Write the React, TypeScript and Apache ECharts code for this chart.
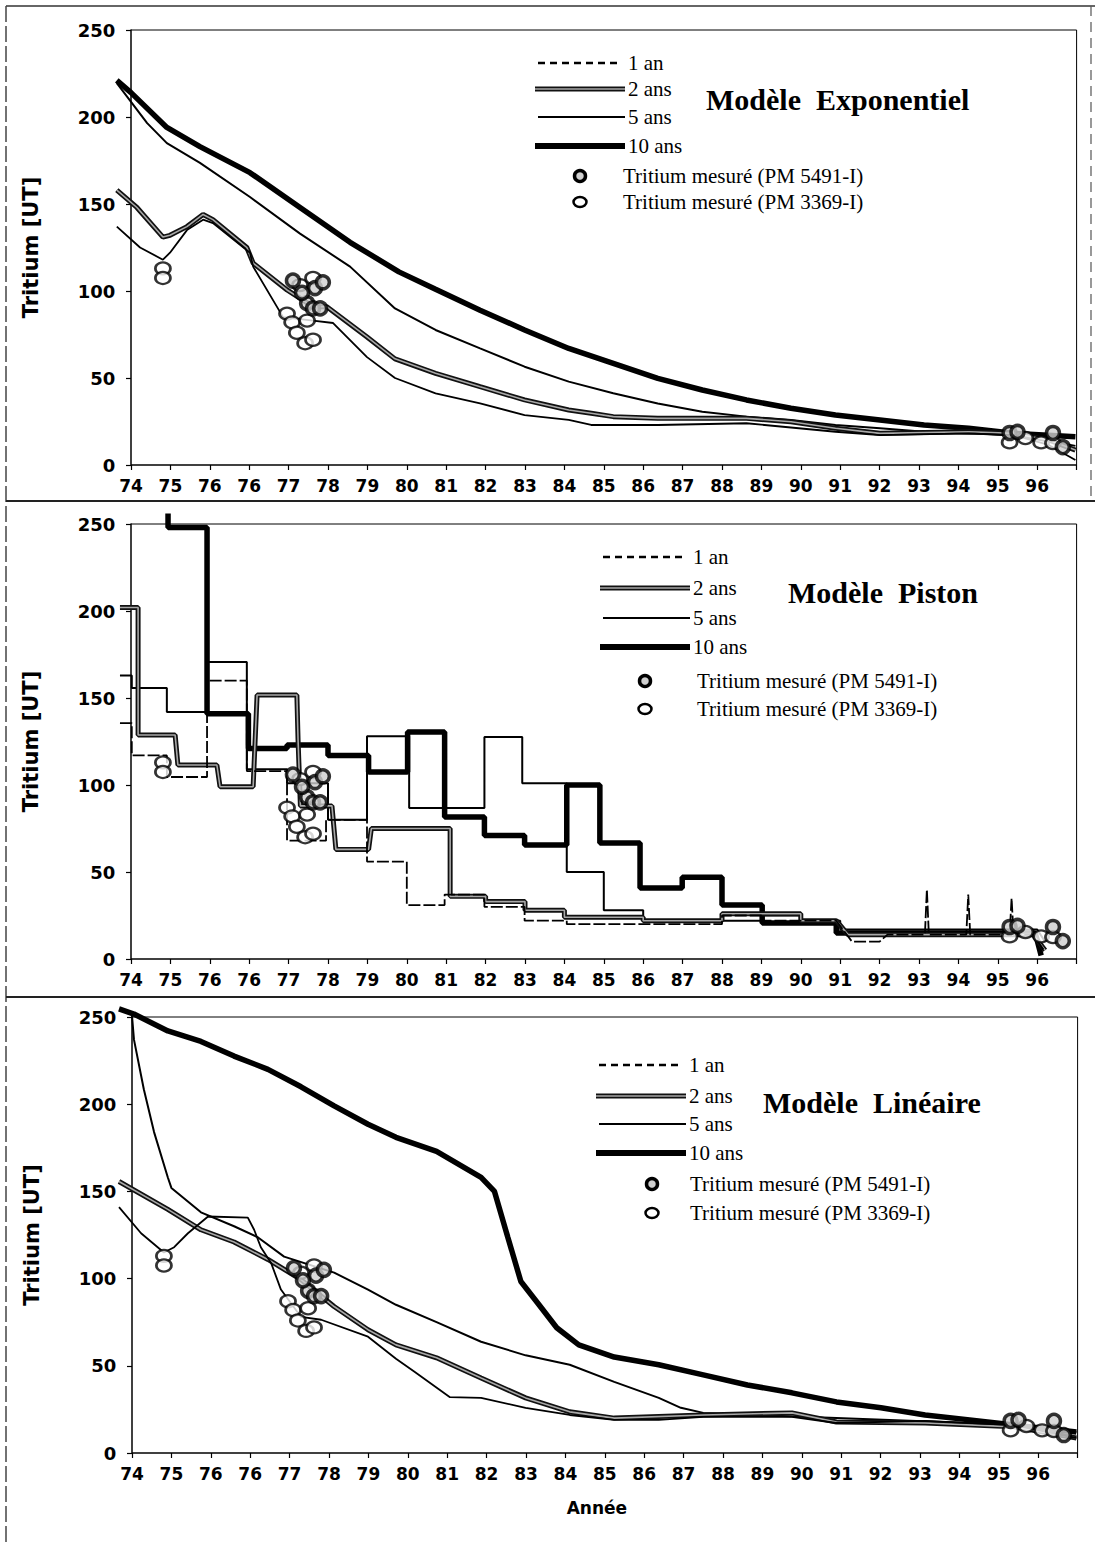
import React, { useEffect, useRef } from 'react';
import * as echarts from 'echarts';

// x positions are expressed in tick units of the original axis (tick i carries tickLabels[i])
const tickLabels = ['74','75','76','76','77','78','79','80','81','82','83','84','85','86','87','88','89','90','91','92','93','94','95','96'];
const labelTicks = tickLabels.map((_, i) => i);
const axisTicks = [...labelTicks, 24];

// ---------- Modèle Exponentiel ----------
const exp1an: number[][] = [[-0.36,137],[0.23,125],[0.81,118],[0.99,122],[1.42,135],[1.83,141],[2.08,139],[3.02,122],[3.10,114],[3.86,85],[4.62,83],[5.13,81.6],[5.99,62],[6.7,50],[7.73,41.2],[8.86,35.4],[9.99,28.7],[11.11,25.9],[11.68,23],[13.37,23],[15.62,24],[17.88,19.1],[19.01,17.2],[21.26,18.2],[22.39,17.2],[23.29,11.5],[23.97,2.9]];
const exp2ans: number[][] = [[-0.36,158],[0.15,148],[0.81,131],[0.99,132],[1.42,137],[1.83,144],[2.08,141],[2.94,125],[3.10,116],[3.96,100.6],[4.62,91],[4.97,91],[5.99,73.6],[6.7,61],[7.73,52.7],[8.86,45],[9.99,37.4],[11.11,31.6],[11.68,29.7],[12.24,27.8],[13.37,26.8],[15.62,26.8],[16.75,24.9],[17.88,21.1],[19.01,18.2],[21.26,19.1],[22.39,18.2],[23.29,14.4],[23.97,8.6]];
const exp5ans: number[][] = [[-0.36,219.5],[0.41,196.5],[0.91,185],[1.75,173.6],[3.02,154],[4.29,133],[5.56,114],[6.7,90],[7.73,77.6],[8.86,67],[9.99,56.5],[11.11,47.9],[12.24,41.2],[13.37,35.4],[14.5,30.6],[15.62,27.8],[16.75,25.9],[17.88,23],[19.01,21.1],[20.13,19.1],[21.26,18.2],[22.39,17],[23.29,14],[23.97,11]];
const exp10ans: number[][] = [[-0.36,221],[0,214],[0.91,194],[1.75,183],[3.02,168],[4.29,148],[5.56,128],[6.8,111],[7.73,101],[8.86,89],[9.99,77.6],[11.11,67],[12.24,58.4],[13.37,49.8],[14.5,43.1],[15.62,37.4],[16.75,32.6],[17.88,28.7],[19.01,25.9],[20.13,23],[21.26,21.1],[22.39,18.2],[23.97,16.3]];

// ---------- Modèle Piston ----------
const pis1an: number[][] = [[-0.28,135.6],[0.02,135.6],[0.02,117],[0.91,117],[0.91,104.6],[1.93,104.6],[1.93,160],[2.94,160],[2.94,108],[3.96,108],[3.96,68],[4.95,68],[4.95,80],[5.99,80],[5.99,56],[7.0,56],[7.0,31],[7.96,31],[7.96,37],[8.97,37],[8.97,30],[9.99,30],[9.99,22],[11.06,22],[11.06,20],[15.0,20],[15.0,25],[16.0,25],[16.0,22],[17.9,22],[18.3,10],[19.0,10],[19.2,14],[20.15,14],[20.2,40],[20.25,14],[21.2,14],[21.25,37],[21.3,14],[22.3,14],[22.35,35],[22.4,14],[22.9,14],[23.2,4]];
const pis2ans: number[][] = [[-0.28,202],[0.18,202],[0.18,128.7],[1.12,128.7],[1.19,111.5],[2.18,111.5],[2.26,99],[3.10,99],[3.2,151.7],[4.21,151.7],[4.24,126],[4.3,88],[5.1,88],[5.2,63],[6.03,63],[6.1,75],[8.1,75],[8.1,36],[9.0,36],[9.0,33],[10.0,33],[10.0,28],[11.0,28],[11.0,24],[13.0,24],[13.0,22],[15.0,22],[15.0,26],[17.0,26],[17.0,22],[17.9,22],[18.2,14],[22.9,14],[23.2,5]];
const pis5ans: number[][] = [[-0.28,163],[0.02,163],[0.02,155.7],[0.91,155.7],[0.91,142],[1.93,142],[1.93,170.7],[2.94,170.7],[2.94,109],[3.96,109],[3.96,101],[5.0,101],[5.0,80],[5.99,80],[5.99,128],[7.06,128],[7.06,86.8],[8.97,86.8],[8.97,127.6],[9.93,127.6],[9.93,101],[11.06,101],[11.06,50],[12.0,50],[12.0,28],[13.0,28],[13.0,22],[16.0,22],[16.0,25],[17.0,25],[17.0,22],[18.0,22],[18.0,17],[23.0,17],[23.2,10]];
const pis10ans: number[][] = [[0.94,256],[0.94,248],[1.93,248],[1.93,141],[2.98,141],[2.98,121],[3.96,121],[3.96,123],[5.0,123],[5.0,117],[6.03,117],[6.03,107.5],[7.02,107.5],[7.02,130.5],[7.96,130.5],[7.96,81.6],[8.97,81.6],[8.97,71],[9.99,71],[9.99,65.5],[11.06,65.5],[11.06,100],[11.9,100],[11.9,66.7],[12.92,66.7],[12.92,40.8],[13.99,40.8],[13.99,47],[15.0,47],[15.0,31],[16.02,31],[16.02,20.7],[17.9,20.7],[17.9,15],[22.95,15],[23.1,2]];

// ---------- Modèle Linéaire ----------
const lin1an: number[][] = [[-0.33,141],[0.23,126],[0.81,115],[1.07,118],[1.42,126],[1.93,135.6],[2.94,135],[3.10,128],[3.27,118],[3.53,109],[3.78,93.7],[4.29,78],[4.80,76.4],[5.99,66.7],[6.7,54],[7.17,46.6],[8.07,32],[8.86,31.6],[9.99,25.9],[11.11,21.8],[12.24,19],[13.37,19],[14.5,20.7],[16.75,20.7],[17.88,17.2],[20.13,18.4],[22.39,16],[23.97,8.6]];
const lin2ans: number[][] = [[-0.33,155.7],[0.91,139.7],[1.75,128],[2.59,121],[3.45,111],[4.29,99.4],[5.13,84],[5.99,70.7],[6.7,62],[7.73,54.6],[8.86,43],[9.99,31.6],[11.11,23.6],[12.24,20],[14.5,21.8],[16.75,23],[17.88,17.8],[20.13,17.2],[22.39,15],[23.97,8.6]];
const lin5ans: number[][] = [[0,250.6],[0.05,237],[0.30,208.6],[0.56,184],[0.91,158],[1.0,152],[1.75,138],[2.59,130],[3.20,123.6],[3.86,112.6],[5.13,103.4],[5.99,93.7],[6.7,85],[7.73,75],[8.86,63.8],[9.99,56],[11.11,50.6],[12.24,40.8],[13.37,31.6],[13.93,25.9],[14.5,23],[17.88,20],[21.26,17.2],[23.97,12]];
const lin10ans: number[][] = [[-0.33,254.6],[0.05,251.7],[0.91,242],[1.75,236],[2.59,227.6],[3.45,220],[4.29,210],[5.13,199],[5.99,188.5],[6.7,181],[7.73,173],[8.86,158],[9.20,150],[9.54,123.6],[9.87,98.3],[10.33,85],[10.78,71.8],[11.34,62],[12.24,55],[13.37,50.6],[14.5,44.8],[15.62,39],[16.75,34.5],[17.88,29.3],[19.01,25.9],[20.13,21.8],[21.26,19],[22.39,16],[23.97,12]];

// ---------- Tritium mesuré (same measurements on every panel) ----------
const pm5491: number[][] = [[4.11,106],[4.67,101.7],[4.87,105],[4.47,93],[4.62,90],[4.80,90],[4.34,99],[22.3,18.4],[22.5,19],[23.4,18.4],[23.65,10.3]];
const pm3369: number[][] = [[0.81,113],[0.81,107.5],[3.96,87],[4.09,82],[4.21,76],[4.47,83],[4.42,70],[4.62,72],[4.29,103.4],[4.62,107.5],[22.3,13],[22.7,15.5],[23.1,13],[23.4,12.6]];

const seriesNames = ['1 an', '2 ans', '5 ans', '10 ans'];
const markerNames = ['Tritium mesuré (PM 5491-I)', 'Tritium mesuré (PM 3369-I)'];

const X_MIN = -0.4;
const X_MAX = 24;
const UNIT = 39.4; // px per tick unit

const panels = [
  { title: 'Modèle  Exponentiel', data: [exp1an, exp2ans, exp5ans, exp10ans], dashed1: false,
    axisX: 131, top: 30, height: 435,
    leg: { x0: 535, x1: 625, tx: 628, rows: [63, 89, 117, 146], mx: 580, mtx: 623, mrows: [176, 202], titleX: 706, titleY: 99 } },
  { title: 'Modèle  Piston', data: [pis1an, pis2ans, pis5ans, pis10ans], dashed1: true,
    axisX: 131, top: 524, height: 435,
    leg: { x0: 600, x1: 690, tx: 693, rows: [557, 588, 618, 647], mx: 645, mtx: 697, mrows: [681, 709], titleX: 788, titleY: 592 } },
  { title: 'Modèle  Linéaire', data: [lin1an, lin2ans, lin5ans, lin10ans], dashed1: false,
    axisX: 132, top: 1017, height: 436,
    leg: { x0: 596, x1: 686, tx: 689, rows: [1065, 1096, 1124, 1153], mx: 652, mtx: 690, mrows: [1184, 1213], titleX: 763, titleY: 1102 } },
];

const serifFont = '"Liberation Serif", "DejaVu Serif", serif';
const axisFont = '"DejaVu Sans", sans-serif';

function buildOption() {
  const grid: any[] = [];
  const xAxis: any[] = [];
  const yAxis: any[] = [];
  const series: any[] = [];
  const graphic: any[] = [];

  panels.forEach((p, i) => {
    const left = p.axisX + X_MIN * UNIT;
    const width = (X_MAX - X_MIN) * UNIT;
    const right = left + width;
    const bottom = p.top + p.height;
    grid.push({ left, top: p.top, width, height: p.height, show: false });
    xAxis.push({
      type: 'value', gridIndex: i, min: X_MIN, max: X_MAX,
      axisLine: { show: false, onZero: false },
      axisTick: { show: true, length: 5, customValues: axisTicks, lineStyle: { color: '#000', width: 1.2 } },
      splitLine: { show: false },
      axisLabel: {
        margin: 12, color: '#000', fontFamily: axisFont, fontWeight: 'bold', fontSize: 17,
        customValues: labelTicks,
        formatter: (v: number) => tickLabels[Math.round(v)] ?? '',
      },
      name: i === 2 ? 'Année' : '', nameLocation: 'middle', nameGap: 46,
      nameTextStyle: { fontFamily: axisFont, fontWeight: 'bold', fontSize: 17, color: '#000' },
    });
    yAxis.push({
      type: 'value', gridIndex: i, min: 0, max: 250, interval: 50,
      axisLine: { show: true, onZero: true, lineStyle: { color: '#000', width: 1.5 } },
      axisTick: { show: true, length: 5, lineStyle: { color: '#000', width: 1.2 } },
      splitLine: { show: false },
      axisLabel: { margin: 0, color: '#000', fontFamily: axisFont, fontWeight: 'bold', fontSize: 18 },
      name: 'Tritium [UT]', nameLocation: 'middle', nameGap: 74, nameRotate: 90,
      nameTextStyle: { fontFamily: axisFont, fontWeight: 'bold', fontSize: 21, color: '#000' },
    });

    // plot frame: top, right, and the x axis line starting at the y axis
    graphic.push({ type: 'line', shape: { x1: p.axisX, y1: p.top, x2: right, y2: p.top }, style: { stroke: '#000', lineWidth: 1 } });
    graphic.push({ type: 'line', shape: { x1: right, y1: p.top, x2: right, y2: bottom }, style: { stroke: '#000', lineWidth: 1 } });
    graphic.push({ type: 'line', shape: { x1: p.axisX, y1: bottom, x2: right, y2: bottom }, style: { stroke: '#000', lineWidth: 1.5 } });

    const [d1, d2, d5, d10] = p.data;
    const base = { type: 'line', xAxisIndex: i, yAxisIndex: i, showSymbol: false, clip: false, silent: true };
    series.push({ ...base, name: seriesNames[3], data: d10, lineStyle: { color: '#000', width: 5.5 }, z: 2 });
    series.push({ ...base, name: seriesNames[2], data: d5, lineStyle: { color: '#000', width: 2 }, z: 3 });
    series.push({ ...base, name: seriesNames[1], data: d2, lineStyle: { color: '#111', width: 5 }, z: 4 });
    series.push({ ...base, name: seriesNames[1], data: d2, lineStyle: { color: '#a8a8a8', width: 1.6 }, z: 5 });
    series.push({ ...base, name: seriesNames[0], data: d1,
      lineStyle: { color: '#000', width: 1.8, type: p.dashed1 ? [12, 3] : 'solid' }, z: 6 });
    series.push({ type: 'scatter', name: markerNames[1], xAxisIndex: i, yAxisIndex: i, data: pm3369,
      symbol: 'circle', symbolSize: [15, 12], itemStyle: { color: '#fff', borderColor: '#000', borderWidth: 2.5 }, z: 7 });
    series.push({ type: 'scatter', name: markerNames[0], xAxisIndex: i, yAxisIndex: i, data: pm5491,
      symbol: 'circle', symbolSize: 13, itemStyle: { color: '#cfcfcf', borderColor: '#000', borderWidth: 3.5 }, z: 8 });

    // legend + title
    const L = p.leg;
    const txt = (x: number, y: number, text: string, size = 21, bold = false) => ({
      type: 'text', x, y, style: { text, fill: '#000', font: `${bold ? 'bold ' : ''}${size}px ${serifFont}`, verticalAlign: 'middle', align: 'left' },
    });
    graphic.push({ type: 'line', shape: { x1: L.x0 + 3, y1: L.rows[0], x2: L.x1 - 8, y2: L.rows[0] }, style: { stroke: '#000', lineWidth: 2.5, lineDash: [7, 5] } });
    graphic.push({ type: 'line', shape: { x1: L.x0, y1: L.rows[1], x2: L.x1, y2: L.rows[1] }, style: { stroke: '#111', lineWidth: 5 } });
    graphic.push({ type: 'line', shape: { x1: L.x0, y1: L.rows[1], x2: L.x1, y2: L.rows[1] }, style: { stroke: '#a8a8a8', lineWidth: 1.5 } });
    graphic.push({ type: 'line', shape: { x1: L.x0 + 3, y1: L.rows[2], x2: L.x1, y2: L.rows[2] }, style: { stroke: '#000', lineWidth: 2.2 } });
    graphic.push({ type: 'line', shape: { x1: L.x0, y1: L.rows[3], x2: L.x1, y2: L.rows[3] }, style: { stroke: '#000', lineWidth: 6 } });
    seriesNames.forEach((n, k) => graphic.push(txt(L.tx, L.rows[k], n)));
    graphic.push({ type: 'circle', shape: { cx: L.mx, cy: L.mrows[0], r: 5.5 }, style: { fill: '#cfcfcf', stroke: '#000', lineWidth: 3.5 } });
    graphic.push({ type: 'ellipse', shape: { cx: L.mx, cy: L.mrows[1], rx: 6.5, ry: 5 }, style: { fill: '#fff', stroke: '#000', lineWidth: 2.5 } });
    graphic.push(txt(L.mtx, L.mrows[0], markerNames[0]));
    graphic.push(txt(L.mtx, L.mrows[1], markerNames[1]));
    graphic.push(txt(L.titleX, L.titleY, p.title, 30, true));
  });

  // page frame (scanned figure borders)
  graphic.push({ type: 'line', shape: { x1: 6, y1: 6, x2: 1095, y2: 6 }, style: { stroke: '#333', lineWidth: 1.5 } });
  graphic.push({ type: 'line', shape: { x1: 6, y1: 6, x2: 6, y2: 1542 }, style: { stroke: '#444', lineWidth: 1.5, lineDash: [16, 4] } });
  graphic.push({ type: 'line', shape: { x1: 6, y1: 501, x2: 1095, y2: 501 }, style: { stroke: '#222', lineWidth: 2 } });
  graphic.push({ type: 'line', shape: { x1: 6, y1: 997, x2: 1095, y2: 997 }, style: { stroke: '#222', lineWidth: 2 } });
  graphic.push({ type: 'line', shape: { x1: 1091, y1: 6, x2: 1091, y2: 501 }, style: { stroke: '#555', lineWidth: 1.2, lineDash: [10, 6] } });

  return {
    animation: false,
    backgroundColor: '#fff',
    grid, xAxis, yAxis, series, graphic,
  };
}

export default function App() {
  const ref = useRef<HTMLDivElement>(null);
  useEffect(() => {
    if (!ref.current) return;
    const chart = echarts.init(ref.current, undefined, { renderer: 'svg' });
    chart.setOption(buildOption() as any);
    return () => chart.dispose();
  }, []);
  return <div ref={ref} style={{ position: 'absolute', left: 0, top: 0, width: 1095, height: 1542, background: '#fff' }} />;
}
